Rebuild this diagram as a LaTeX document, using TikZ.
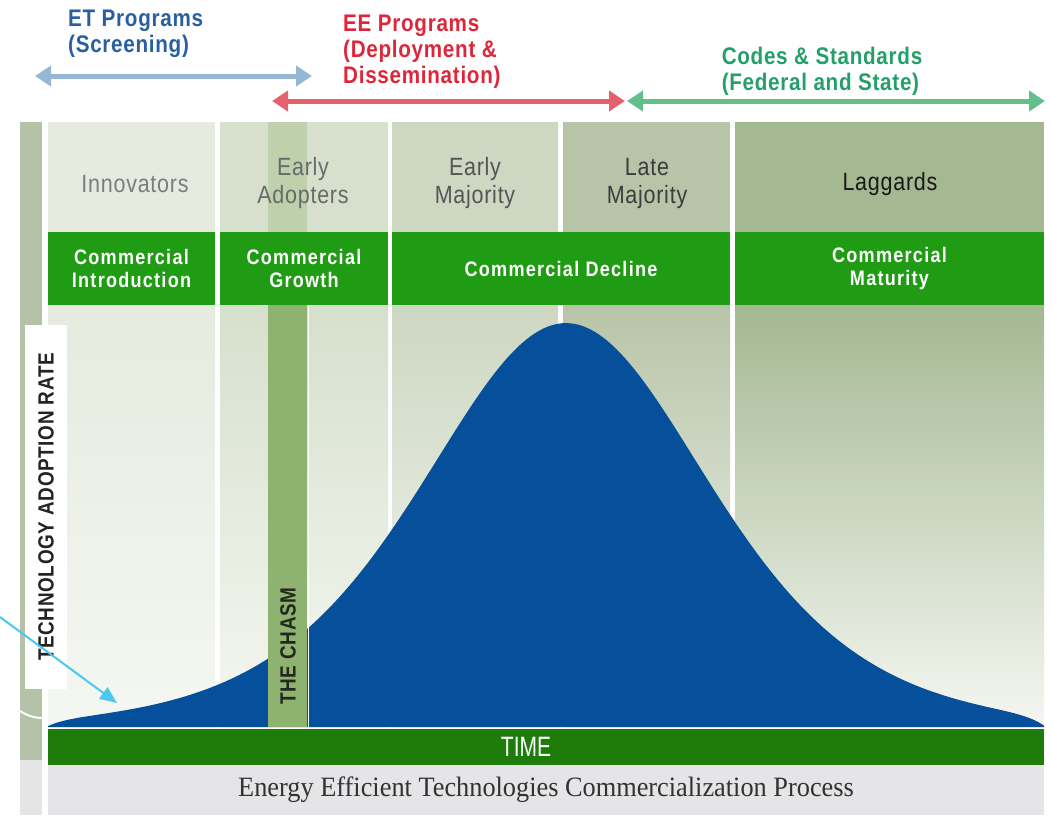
\documentclass[tikz,border=0pt]{standalone}
\usepackage{fontspec}
\setmainfont{Liberation Sans}
\newfontfamily\condfont[FakeStretch=0.86,LetterSpace=3]{Liberation Sans}
\newfontfamily\barfont[FakeStretch=0.86,LetterSpace=6]{Liberation Sans}
\newfontfamily\narrowfont[FakeStretch=0.75]{Liberation Sans}
\newfontfamily\capfont[FakeStretch=0.94]{Liberation Serif}
\usetikzlibrary{arrows.meta}

\definecolor{etBlue}{RGB}{40,95,160}
\definecolor{etArrow}{RGB}{150,182,214}
\definecolor{eeRed}{RGB}{222,38,58}
\definecolor{eeArrow}{RGB}{228,98,110}
\definecolor{csGreen}{RGB}{35,160,105}
\definecolor{csArrow}{RGB}{100,190,140}
\definecolor{barGreen}{RGB}{31,155,20}
\definecolor{timeGreen}{RGB}{30,125,10}
\definecolor{curveBlue}{RGB}{6,80,155}
\definecolor{colInno}{RGB}{229,235,223}
\definecolor{colEarly}{RGB}{214,224,204}
\definecolor{colEMaj}{RGB}{205,215,194}
\definecolor{colLMaj}{RGB}{184,196,168}
\definecolor{colLag}{RGB}{164,184,146}
\definecolor{chasmTop}{RGB}{190,208,172}
\definecolor{chasmGreen}{RGB}{142,178,112}
\definecolor{stripGreen}{RGB}{180,194,168}
\definecolor{capGray}{RGB}{229,228,230}
\definecolor{fadeWhite}{RGB}{245,247,242}
\definecolor{pointerCyan}{RGB}{75,200,240}

\tikzset{
	prog arrow/.style={
		line width=5pt,
		{Triangle[length=16pt,width=20pt]}-{Triangle[length=16pt,width=20pt]}
	},
	prog text/.style={
		font=\condfont\bfseries\fontsize{24}{26}\selectfont,
		inner sep=0pt,
		align=left
	},
	group head/.style={
		font=\condfont\fontsize{25}{28}\selectfont,
		align=center,
		inner sep=0pt
	},
	phase bar/.style={
		fill=barGreen,
		text=white,
		font=\barfont\bfseries\fontsize{21}{23}\selectfont,
		align=center,
		minimum height=73pt,
		inner sep=0pt
	},
}

\begin{document}
\begin{tikzpicture}[x=1pt,y=-1pt]
\useasboundingbox (0,0) rectangle (1051,815);

% left strip
\fill[stripGreen] (20,122) rectangle (42,760);
\fill[capGray] (20,760) rectangle (42,815);
\draw[white,line width=2pt] (20,711) .. controls (28,716) and (35,718) .. (42,718);

% adopter columns
\foreach \xa/\xb/\col in {48/215/colInno,220/388/colEarly,392/558/colEMaj,563/730/colLMaj,735/1044/colLag}{
	\fill[\col] (\xa,122) rectangle (\xb,305);
	\shade[top color=\col,bottom color=fadeWhite] (\xa,305) rectangle (\xb,727);
}
\fill[chasmTop] (268,122) rectangle (307,232);

% adoption curve
\fill[curveBlue] (48,727) -- plot[domain=48:1044,samples=220]
	(\x,{727-404*4/(exp((\x-566)/194)+exp((566-\x)/194))^2*(1-exp(max(-20,(46-\x)/15)))*(1-exp(max(-20,(\x-1046)/15)))})
	-- (1044,727) -- cycle;
\fill[chasmGreen] (268,305) rectangle (307,727);
\draw[white,line width=1pt] (308,305) -- (308,727);

\node[group head,text={rgb,255:red,125;green,125;blue,125}] (innovators) at (135,184) {Innovators};
\node[group head,text={rgb,255:red,105;green,105;blue,105}] (adopters) at (303,183) {Early\\Adopters};
\node[group head,text={rgb,255:red,85;green,85;blue,85}] (earlymaj) at (475,183) {Early\\Majority};
\node[group head,text={rgb,255:red,60;green,60;blue,60}] (latemaj) at (647,183) {Late\\Majority};
\node[group head,text={rgb,255:red,25;green,25;blue,25}] (laggards) at (890,184) {Laggards};

\node[phase bar,minimum width=167pt] (intro) at (131.5,268.5) {Commercial\\Introduction};
\node[phase bar,minimum width=168pt] (growth) at (304,268.5) {Commercial\\Growth};
\node[phase bar,minimum width=338pt] (decline) at (561,268.5) {Commercial Decline};
\node[phase bar,minimum width=309pt] (maturity) at (889.5,268.5) {Commercial\\Maturity};

\node[rotate=90,font=\condfont\bfseries\fontsize{22}{24}\selectfont,text={rgb,255:red,35;green,40;blue,30}] (chasm) at (288,646) {THE CHASM};

\node[fill=white,rotate=90,minimum width=364pt,minimum height=42pt,inner sep=0pt,
	font=\condfont\bfseries\fontsize{22}{24}\selectfont,text={rgb,255:red,35;green,35;blue,35}] (rate) at (46,507) {TECHNOLOGY ADOPTION RATE};

\node[fill=timeGreen,minimum width=996pt,minimum height=36pt,inner sep=0pt,text=white,
	font=\narrowfont\fontsize{28}{30}\selectfont] (time) at (546,747) {\hspace*{-40pt}TIME};
\node[fill=capGray,minimum width=996pt,minimum height=50pt,inner sep=0pt,
	text={rgb,255:red,50;green,50;blue,50},font=\capfont\fontsize{28}{30}\selectfont] (process) at (546,790) {Energy Efficient Technologies Commercialization Process};

% program ranges
\node[prog text,text=etBlue,anchor=north west] (etprog) at (68,10) {ET Programs\\(Screening)};
\node[prog text,text=eeRed,anchor=north west] (eeprog) at (343,15) {EE Programs\\(Deployment \&\\Dissemination)};
\node[prog text,text=csGreen,anchor=north] (csprog) at (822,47) {Codes \& Standards\\(Federal and State)};

\coordinate (etL) at (35,76);
\coordinate (etR) at (312,76);
\coordinate (eeL) at (272,101);
\coordinate (eeR) at (625,101);
\coordinate (csL) at (627,101);
\coordinate (csR) at (1045,101);
\draw[prog arrow,etArrow] (etL) -- (etR);
\draw[prog arrow,eeArrow] (eeL) -- (eeR);
\draw[prog arrow,csArrow] (csL) -- (csR);

\coordinate (pointer) at (0,617);
\coordinate (tail) at (117,703);
\draw[pointerCyan,line width=2pt,-{Triangle[length=17pt,width=14pt]}] (pointer) -- (tail);

\end{tikzpicture}
\end{document}
